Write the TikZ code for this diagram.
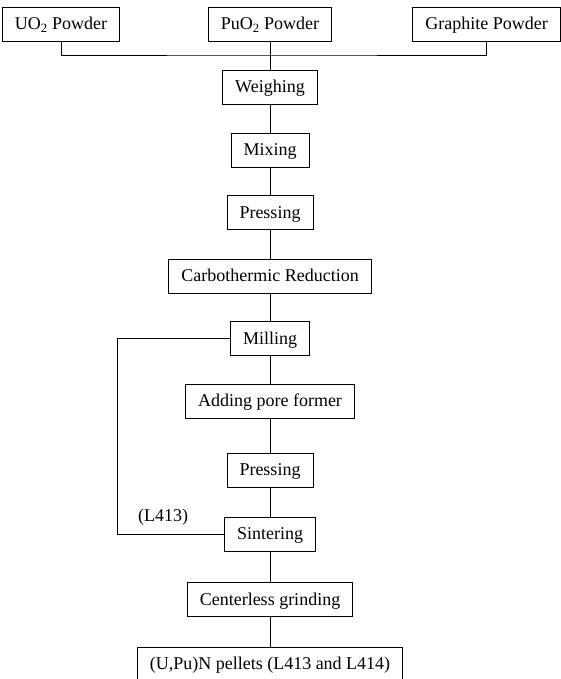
\documentclass[tikz,border=0pt]{standalone}
\usepackage{fontspec}
\setmainfont{Liberation Serif}
\begin{document}
\begin{tikzpicture}[x=1pt,y=-1pt,line width=0.9pt]
    \tikzstyle{step box}=[draw,inner xsep=12.5pt,inner ysep=0pt,minimum height=34pt,text height=12pt,text depth=1pt,font=\fontsize{18}{20}\selectfont]
    \tikzstyle{plain label}=[inner sep=0pt,font=\fontsize{18}{20}\selectfont]
    \useasboundingbox (0,0) rectangle (561,679);

    % powders
    \node(uo2)[step box] at (61,24.5) {UO\textsubscript{2} Powder};
    \node(puo2)[step box] at (270,24.5) {PuO\textsubscript{2} Powder};
    \node(graph)[step box] at (486.5,24.5) {Graphite Powder};

    % process steps
    \node(weigh)[step box] at (270,87) {Weighing};
    \node(mix)[step box] at (270,150) {Mixing};
    \node(press1)[step box] at (270,212.5) {Pressing};
    \node(carbo)[step box] at (270,276) {Carbothermic Reduction};
    \node(mill)[step box] at (270,338.5) {Milling};
    \node(pore)[step box] at (270,401) {Adding pore former};
    \node(press2)[step box] at (270,470) {Pressing};
    \node(sint)[step box] at (270,534) {Sintering};
    \node(grind)[step box] at (270,599.5) {Centerless grinding};
    \node(pellet)[step box] at (270,664) {(U,Pu)N pellets (L413 and L414)};

    % feed lines
    \coordinate(bus) at (270,55);
    \draw (uo2.south) |- (bus) -| (graph.south);
    \draw (puo2.south) -- (weigh.north);

    % main chain
    \draw (weigh) -- (mix) -- (press1) -- (carbo) -- (mill) -- (pore)
          -- (press2) -- (sint) -- (grind) -- (pellet);

    % milled powder straight to sintering
    \coordinate(loop) at (117,0);
    \draw (mill.west) -- (mill.west -| loop) |- (sint.west);
    \node(l413)[plain label] at (163,517) {(L413)};
\end{tikzpicture}
\end{document}
